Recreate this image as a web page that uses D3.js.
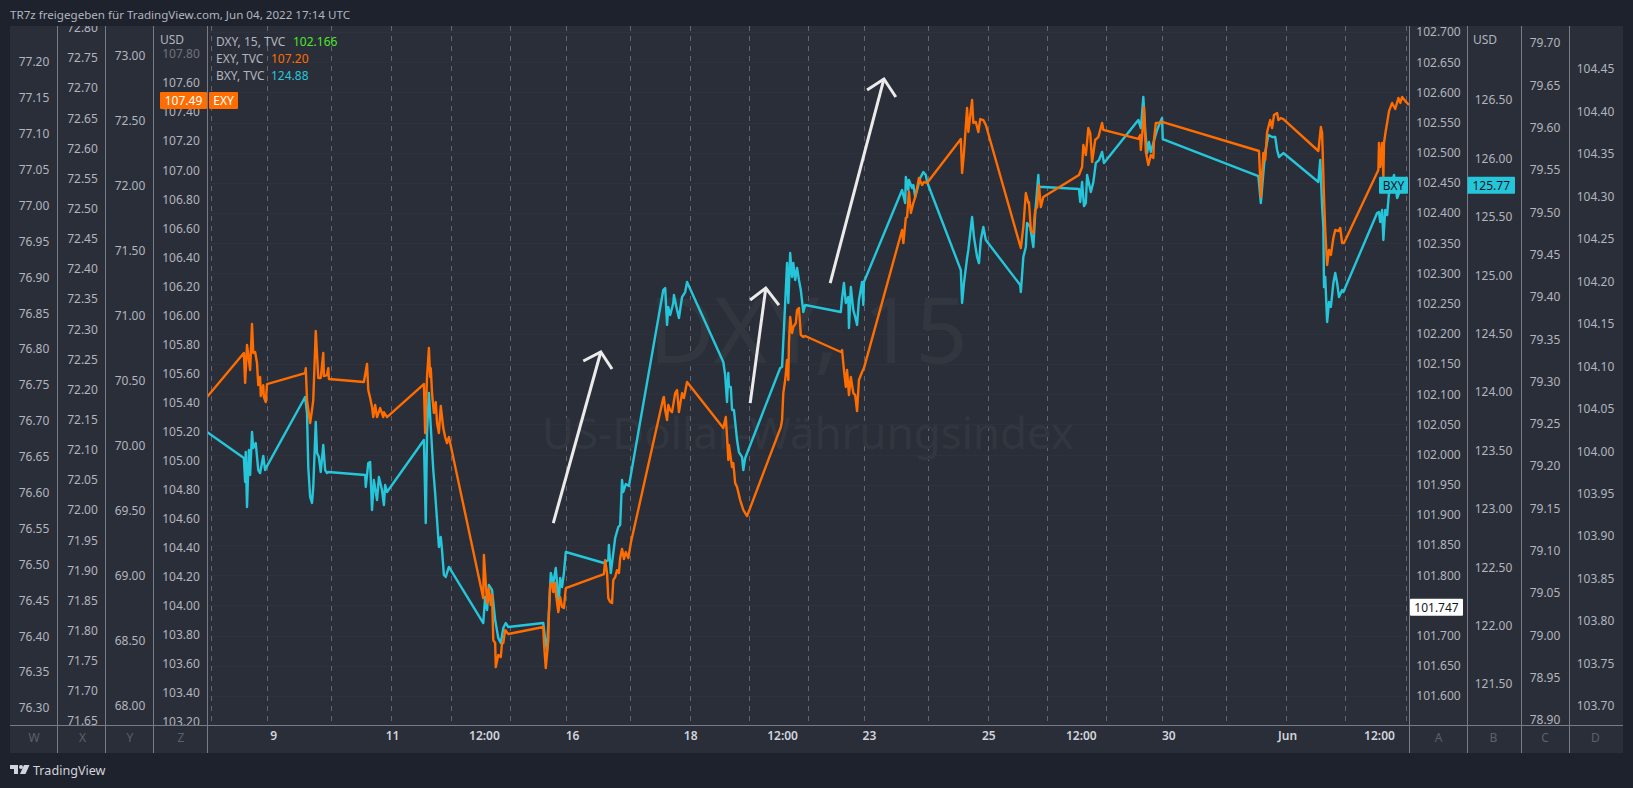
<!DOCTYPE html>
<html>
<head>
<meta charset="utf-8">
<title>DXY, EXY, BXY</title>
<style>
    html, body { margin: 0; padding: 0; background: #1e222d; overflow: hidden; }
    svg { display: block; }
    text { font-family: "Noto Sans", "Open Sans", sans-serif; font-size: 12px; fill: #b2b5be; }
</style>
<script src="https://cdn.jsdelivr.net/npm/d3@7"></script>
</head>
<body>
<div class="displayArea"></div>
<script>
// EXY, 15 min bars
const exyBars = [0, 59, 61, 64, 69, 72, 74, 77, 80, 82, 85, 86, 90, 91, 94, 96,
    157, 158, 160, 165, 168, 170, 174, 178, 182, 186, 187, 192, 194, 195,
    251, 256, 258, 261, 264, 266, 269, 272, 277, 282, 283, 288,
    347, 349, 352, 355, 357, 358, 360, 363, 366, 368, 371, 374, 378, 381, 384, 387,
    442, 443, 446, 448, 451, 454, 456, 458, 461, 462, 466, 470, 472, 474, 477, 482,
    538, 539, 542, 546, 547, 549, 552, 554, 557, 558, 562, 565, 568, 571, 574,
    635, 637, 640, 642, 645, 648, 650, 653, 656, 659, 661, 664, 667, 670, 674, 678,
    730, 731, 733, 736, 738, 741, 744, 749, 752, 755, 760, 763, 768,
    826, 830, 832, 834, 835, 840, 842, 845, 848, 853, 858, 864,
    918, 920, 922, 925, 928, 930, 931, 933, 936, 938, 942, 944, 947, 950, 954, 957,
    1014, 1016, 1019, 1022, 1024, 1027, 1030, 1034, 1037, 1040, 1043, 1048, 1051,
    1112, 1114, 1118, 1120, 1123, 1126, 1130, 1133, 1136, 1139, 1144, 1147, 1152,
    1206, 1208, 1211, 1216, 1218, 1224, 1226, 1230, 1234, 1237, 1242, 1246,
    1302, 1306, 1310, 1314, 1315, 1318, 1322, 1325, 1328, 1331, 1334, 1338,
    1395, 1400, 1402, 1406, 1410, 1413, 1416, 1421, 1426, 1432, 1434,
    1490, 1493, 1494, 1498, 1499, 1502, 1506, 1510, 1514, 1515, 1518, 1523, 1528,
    1683, 1685, 1686, 1690, 1693, 1696, 1701, 1704, 1707, 1712, 1714, 1718, 1722,
    1778, 1782, 1784, 1787, 1789, 1792, 1795, 1798, 1802, 1805, 1810, 1813, 1816, 1819,
    1874, 1875, 1877, 1880, 1882, 1883, 1886, 1888, 1891, 1896, 1901, 1906, 1909, 1912, 1917, 1923];
const exyValues = [105.438, 105.741, 105.534, 105.796, 105.624, 105.941, 105.741, 105.748, 105.672, 105.520, 105.576, 105.445, 105.520, 105.438, 105.403, 105.527,
    105.603, 105.637, 105.417, 105.259, 105.348, 105.417, 105.892, 105.569, 105.569, 105.741, 105.582, 105.589, 105.637, 105.562,
    105.541, 105.665, 105.486, 105.431, 105.369, 105.300, 105.383, 105.300, 105.362, 105.300, 105.334, 105.300,
    105.527, 105.190, 105.576, 105.775, 105.576, 105.637, 105.465, 105.328, 105.403, 105.259, 105.190, 105.376, 105.224, 105.162, 105.121, 105.162,
    104.053, 104.350, 104.157, 104.019, 104.122, 104.005, 104.074, 103.764, 103.744, 103.578, 103.661, 103.647, 103.744, 103.744, 103.833, 103.806,
    103.854, 103.750, 103.571, 103.764, 103.950, 104.143, 104.157, 104.095, 104.157, 104.088, 103.957, 104.060, 103.992, 103.985, 104.122,
    104.219, 104.315, 104.226, 104.053, 104.026, 104.019, 104.177, 104.198, 104.246, 104.226, 104.329, 104.391, 104.322, 104.370, 104.329, 104.432,
    105.431, 105.438, 105.348, 105.279, 105.383, 105.348, 105.334, 105.465, 105.486, 105.334, 105.465, 105.431, 105.541,
    105.224, 105.300, 105.162, 105.004, 105.107, 104.956, 104.983, 104.845, 104.818, 104.728, 104.660, 104.618,
    105.231, 105.279, 105.465, 105.555, 105.693, 105.555, 105.810, 105.989, 105.879, 105.920, 105.947, 106.037, 106.051, 105.865, 105.851, 105.858,
    105.748, 105.761, 105.624, 105.507, 105.624, 105.451, 105.576, 105.465, 105.451, 105.341, 105.555, 105.610, 105.637,
    106.588, 106.498, 106.671, 106.677, 106.850, 106.705, 106.774, 106.815, 106.877, 106.946, 106.898, 106.918, 106.912,
    107.215, 106.980, 107.118, 107.428, 107.263, 107.483, 107.325, 107.332, 107.263, 107.352, 107.345, 107.311,
    106.464, 106.609, 106.843, 106.774, 106.781, 106.588, 106.567, 106.726, 106.746, 106.898, 106.746, 106.815,
    106.967, 107.022, 107.173, 107.104, 107.290, 107.256, 107.056, 107.208, 107.228, 107.325, 107.277,
    107.215, 107.242, 107.139, 107.345, 107.435, 107.125, 107.036, 107.104, 107.084, 107.208, 107.325, 107.325, 107.332,
    107.132, 106.932, 106.815, 107.118, 107.070, 107.263, 107.345, 107.290, 107.380, 107.394, 107.345, 107.359, 107.352,
    107.132, 107.297, 107.256, 106.815, 106.588, 106.347, 106.450, 106.416, 106.533, 106.588, 106.581, 106.602, 106.498, 106.498,
    107.001, 107.187, 107.022, 107.187, 106.953, 107.187, 107.277, 107.325, 107.407, 107.463, 107.421, 107.497, 107.463, 107.504, 107.476, 107.449];

// BXY, 15 min bars
const bxyBars = [0, 59, 61, 62, 64, 67, 69, 72, 74, 78, 82, 85, 90, 93, 96,
    157, 160, 162, 165, 168, 170, 174, 176, 179, 182, 186, 189, 192, 194,
    253, 254, 258, 261, 264, 267, 272, 275, 280, 283, 285, 288,
    347, 350, 352, 355, 358, 362, 365, 368, 371, 374, 376, 379, 382, 387,
    442, 445, 448, 451, 456, 459, 461, 466, 470, 474, 478, 482,
    538, 541, 544, 547, 550, 554, 558, 560, 562, 565, 568, 571, 574,
    635, 642, 643, 646, 650, 653, 658, 661, 664, 666, 670, 675,
    730, 733, 736, 738, 741, 746, 747, 752, 755, 760, 765, 768,
    826, 829, 832, 834, 835, 838, 840, 843, 848, 851, 856, 858, 861,
    917, 920, 925, 928, 930, 933, 936, 938, 941, 944, 947, 950, 954, 957,
    1014, 1016, 1019, 1022, 1026, 1027, 1030, 1034, 1037, 1040, 1043, 1048, 1050, 1051,
    1112, 1117, 1118, 1122, 1123, 1128, 1130, 1133, 1136, 1141, 1146, 1150, 1152,
    1206, 1208, 1211, 1216, 1218, 1224, 1227, 1232, 1235, 1238, 1242, 1246,
    1301, 1302, 1306, 1310, 1312, 1317, 1322, 1325, 1330, 1331, 1338,
    1395, 1397, 1400, 1403, 1406, 1408, 1414, 1418, 1422, 1427, 1432, 1435,
    1490, 1494, 1498, 1501, 1504, 1507, 1510, 1514, 1520, 1525, 1528, 1529,
    1682, 1686, 1690, 1693, 1698, 1704, 1709, 1712, 1715, 1722,
    1778, 1781, 1784, 1786, 1787, 1789, 1792, 1795, 1798, 1802, 1805, 1808, 1811, 1816, 1818,
    1872, 1875, 1877, 1880, 1882, 1885, 1888, 1891, 1899, 1904, 1909, 1914];
const bxyValues = [123.658, 123.435, 123.229, 123.486, 123.015, 123.503, 123.289, 123.658, 123.520, 123.563, 123.332, 123.306, 123.452, 123.332, 123.366,
    123.957, 123.820, 123.358, 123.101, 123.050, 123.187, 123.743, 123.478, 123.443, 123.315, 123.546, 123.332, 123.306, 123.315,
    123.289, 123.187, 123.392, 123.401, 122.990, 123.246, 123.075, 123.272, 123.161, 123.032, 123.204, 123.144,
    123.589, 122.878, 123.649, 123.991, 123.700, 123.332, 123.135, 122.904, 122.673, 122.758, 122.647, 122.433, 122.416, 122.502,
    122.022, 122.245, 122.133, 122.347, 122.305, 122.150, 122.048, 121.894, 121.851, 121.979, 122.022, 121.988,
    122.022, 121.877, 121.791, 122.116, 122.450, 122.365, 122.493, 122.365, 122.133, 122.407, 122.330, 122.450, 122.630,
    122.536, 122.561, 122.690, 122.450, 122.621, 122.750, 122.844, 122.861, 123.246, 123.144, 123.212, 123.195,
    124.873, 124.890, 124.574, 124.728, 124.659, 124.762, 124.830, 124.702, 124.633, 124.813, 124.856, 124.942,
    124.257, 124.145, 123.914, 124.163, 124.043, 124.043, 123.846, 123.846, 123.589, 123.486, 123.443, 123.332, 123.435,
    124.205, 124.214, 124.762, 125.104, 124.762, 125.190, 124.985, 125.104, 124.959, 125.062, 124.959, 124.873, 124.685, 124.745,
    124.685, 124.805, 124.933, 124.762, 124.813, 124.548, 124.899, 124.702, 124.642, 124.574, 124.788, 124.942, 124.745, 124.942,
    125.729, 125.618, 125.841, 125.729, 125.815, 125.747, 125.772, 125.669, 125.729, 125.832, 125.884, 125.858, 125.798,
    125.044, 124.762, 124.933, 125.147, 125.216, 125.498, 125.327, 125.156, 125.104, 125.301, 125.413, 125.301,
    124.916, 124.856, 125.156, 125.241, 125.447, 125.413, 125.241, 125.532, 125.858, 125.755, 125.755,
    125.738, 125.627, 125.798, 125.592, 125.618, 125.858, 125.712, 125.798, 125.961, 125.986, 126.055, 125.961,
    126.329, 126.260, 126.526, 126.243, 126.046, 126.140, 126.055, 126.132, 126.243, 126.312, 126.346, 126.166,
    125.849, 125.618, 125.875, 126.055, 126.200, 126.183, 126.183, 126.072, 126.012, 126.046,
    125.798, 125.986, 125.584, 125.413, 124.899, 124.985, 124.599, 124.770, 124.728, 124.933, 125.019, 124.933, 124.813, 124.873, 124.856,
    125.532, 125.541, 125.455, 125.558, 125.301, 125.558, 125.515, 125.704, 125.858, 125.661, 125.729, 125.781];

// arrows drawn on the chart, on the EXY price scale: start, tip, head left, head right
const arrowBars = [[554, 630, 602, 648], [869, 894, 869, 915], [997, 1083, 1056, 1102]];
const arrowPrices = [[104.57, 105.748, 105.686, 105.631], [105.396, 106.188, 106.106, 106.071], [106.223, 107.628, 107.552, 107.504]];

// time scale
const gridBars = [6, 96, 198, 294, 390, 485, 574, 677, 773, 867, 962, 1051, 1154, 1250, 1344, 1438, 1528, 1630, 1726, 1821, 1918];
const timeBars = [106, 296, 443, 584, 773, 920, 1059, 1250, 1398, 1538, 1728, 1875];
const timeLabels = ["9", "11", "12:00", "16", "18", "12:00", "23", "25", "12:00", "30", "Jun", "12:00"];

// price axis ticks
const ticksW = [77.20, 77.15, 77.10, 77.05, 77.00, 76.95, 76.90, 76.85, 76.80, 76.75, 76.70, 76.65, 76.60, 76.55, 76.50, 76.45, 76.40, 76.35, 76.30];
const ticksX = [72.80, 72.75, 72.70, 72.65, 72.60, 72.55, 72.50, 72.45, 72.40, 72.35, 72.30, 72.25, 72.20, 72.15, 72.10, 72.05, 72.00, 71.95, 71.90, 71.85, 71.80, 71.75, 71.70, 71.65];
const ticksY = [73.00, 72.50, 72.00, 71.50, 71.00, 70.50, 70.00, 69.50, 69.00, 68.50, 68.00];
const ticksZ = [107.80, 107.60, 107.40, 107.20, 107.00, 106.80, 106.60, 106.40, 106.20, 106.00, 105.80, 105.60, 105.40, 105.20, 105.00, 104.80, 104.60, 104.40, 104.20, 104.00, 103.80, 103.60, 103.40, 103.20];
const ticksA = [102.70, 102.65, 102.60, 102.55, 102.50, 102.45, 102.40, 102.35, 102.30, 102.25, 102.20, 102.15, 102.10, 102.05, 102.00, 101.95, 101.90, 101.85, 101.80, 101.75, 101.70, 101.65, 101.60];
const ticksB = [126.50, 126.00, 125.50, 125.00, 124.50, 124.00, 123.50, 123.00, 122.50, 122.00, 121.50];
const ticksC = [79.70, 79.65, 79.60, 79.55, 79.50, 79.45, 79.40, 79.35, 79.30, 79.25, 79.20, 79.15, 79.10, 79.05, 79.00, 78.95, 78.90];
const ticksD = [104.45, 104.40, 104.35, 104.30, 104.25, 104.20, 104.15, 104.10, 104.05, 104.00, 103.95, 103.90, 103.85, 103.80, 103.75, 103.70];

const width = 1633, height = 788;
const paneTop = 26, paneBottom = 725, frameBottom = 753, frameLeft = 10, frameRight = 1623;
const plotLeft = 207, plotRight = 1409;

const orange = "#ff6d00", cyan = "#26c6da";

// scales
const x = d3.scaleLinear().domain([0, 1923]).range([plotLeft, plotRight]);

const yW = d3.scaleLinear().domain([77.20, 76.30]).range([62, 708]);
const yX = d3.scaleLinear().domain([72.75, 71.65]).range([58, 721]);
const yY = d3.scaleLinear().domain([73.00, 68.00]).range([56, 706]);
const yZ = d3.scaleLinear().domain([107.80, 103.20]).range([54, 722]);
const yA = d3.scaleLinear().domain([102.70, 101.60]).range([32, 696]);
const yB = d3.scaleLinear().domain([126.50, 121.50]).range([100, 684]);
const yC = d3.scaleLinear().domain([79.70, 78.90]).range([43, 720]);
const yD = d3.scaleLinear().domain([104.45, 103.70]).range([69, 706]);

const priceAxes = [
    { name: "W", scale: yW, ticks: ticksW, left: frameLeft, right: 57.5, center: 34, digits: 2 },
    { name: "X", scale: yX, ticks: ticksX, left: 57.5, right: 105.5, center: 82.5, digits: 2 },
    { name: "Y", scale: yY, ticks: ticksY, left: 105.5, right: 153.5, center: 130, digits: 2 },
    { name: "Z", scale: yZ, ticks: ticksZ, left: 153.5, right: plotLeft, center: 181, digits: 2 },
    { name: "A", scale: yA, ticks: ticksA, left: plotRight, right: 1467.5, center: 1438.5, digits: 3 },
    { name: "B", scale: yB, ticks: ticksB, left: 1467.5, right: 1521.5, center: 1493.5, digits: 2 },
    { name: "C", scale: yC, ticks: ticksC, left: 1521.5, right: 1569.5, center: 1545, digits: 2 },
    { name: "D", scale: yD, ticks: ticksD, left: 1569.5, right: frameRight, center: 1595.5, digits: 2 }
];

const svg = d3.select(".displayArea").append("svg")
    .attr("width", width)
    .attr("height", height);

const defs = svg.append("defs");
defs.append("clipPath").attr("id", "paneClip").append("rect")
    .attr("x", frameLeft).attr("y", paneTop)
    .attr("width", frameRight - frameLeft).attr("height", paneBottom - paneTop);
defs.append("clipPath").attr("id", "plotClip").append("rect")
    .attr("x", plotLeft).attr("y", paneTop)
    .attr("width", plotRight - plotLeft).attr("height", paneBottom - paneTop);

// header
svg.append("text")
    .attr("x", 10).attr("y", 19)
    .style("font-size", "11.6px")
    .text("TR7z freigegeben für TradingView.com, Jun 04, 2022 17:14 UTC");

// panel
svg.append("rect")
    .attr("x", frameLeft).attr("y", paneTop)
    .attr("width", frameRight - frameLeft).attr("height", frameBottom - paneTop)
    .attr("fill", "#2a2e39");

const plot = svg.append("g").attr("clip-path", "url(#plotClip)");

// horizontal grid sits on the main series axis
plot.selectAll(".hGrid")
    .data(ticksA)
    .enter()
    .append("line")
    .attr("class", "hGrid")
    .attr("x1", plotLeft).attr("x2", plotRight)
    .attr("y1", d => Math.round(yA(d)) + 0.5).attr("y2", d => Math.round(yA(d)) + 0.5)
    .style("stroke", "#2e323d");

plot.selectAll(".vGrid")
    .data(gridBars)
    .enter()
    .append("line")
    .attr("class", "vGrid")
    .attr("x1", d => Math.round(x(d)) + 0.5).attr("x2", d => Math.round(x(d)) + 0.5)
    .attr("y1", paneTop).attr("y2", paneBottom)
    .style("stroke", "#62656f")
    .style("stroke-dasharray", "5,5");

// watermark
plot.append("text")
    .attr("x", 808).attr("y", 363)
    .attr("text-anchor", "middle")
    .style("font-size", "92px")
    .style("fill", "#32363f")
    .text("DXY, 15");
plot.append("text")
    .attr("x", 808).attr("y", 449)
    .attr("text-anchor", "middle")
    .style("font-size", "43.8px")
    .style("fill", "#32363f")
    .text("US-Dollar-Währungsindex");

// series
function drawSeries(bars, values, yScale, color) {
    const line = d3.line()
        .x((d, i) => x(bars[i]))
        .y(d => yScale(d));
    plot.append("path")
        .datum(values)
        .attr("d", line)
        .attr("fill", "none")
        .style("stroke", color)
        .style("stroke-width", 2.4)
        .style("stroke-linejoin", "round");
}
drawSeries(bxyBars, bxyValues, yB, cyan);
drawSeries(exyBars, exyValues, yZ, orange);

// arrows
arrowBars.forEach((bars, i) => {
    const prices = arrowPrices[i];
    const arrow = plot.append("g")
        .style("stroke", "#ebebeb")
        .style("stroke-width", 3)
        .style("fill", "none");
    arrow.append("line")
        .attr("x1", x(bars[0])).attr("y1", yZ(prices[0]))
        .attr("x2", x(bars[1])).attr("y2", yZ(prices[1]));
    arrow.append("polyline")
        .attr("points", [2, 1, 3].map(k => `${x(bars[k])},${yZ(prices[k])}`).join(" "));
});

// price axes
const axisGroup = svg.append("g").attr("clip-path", "url(#paneClip)");
priceAxes.forEach(a => {
    const axis = d3.axisRight(a.scale)
        .tickValues(a.ticks)
        .tickSize(0)
        .tickPadding(0)
        .tickFormat(d3.format(`.${a.digits}f`));
    const g = axisGroup.append("g")
        .attr("transform", `translate(${a.center},0)`)
        .call(axis);
    g.select(".domain").remove();
    g.selectAll("text")
        .attr("text-anchor", "middle")
        .attr("fill", null)
        .style("font-family", "\"Noto Sans\", sans-serif")
        .style("font-size", "12px");
    svg.append("text")
        .attr("x", a.center).attr("y", 742)
        .attr("text-anchor", "middle")
        .style("fill", "#5d606b")
        .text(a.name);
    // the tick under the USD unit fades out
    if (a.name === "Z") g.selectAll("text").filter(d => d === 107.80).style("opacity", 0.5);
});

// time axis
const timeAxis = d3.axisBottom(x)
    .tickValues(timeBars)
    .tickSize(0)
    .tickPadding(0)
    .tickFormat((d, i) => timeLabels[i]);
const timeG = svg.append("g")
    .attr("transform", "translate(0,731)")
    .call(timeAxis);
timeG.select(".domain").remove();
timeG.selectAll("text")
    .attr("fill", null)
    .style("font-family", "\"Noto Sans\", sans-serif")
    .style("font-size", "12px")
    .style("font-weight", 600)
    .style("fill", "#d1d4dc");

// separators
const separators = [57.5, 105.5, 153.5, 207.5, 1409.5, 1467.5, 1521.5, 1569.5];
svg.selectAll(".sep")
    .data(separators)
    .enter()
    .append("line")
    .attr("class", "sep")
    .attr("x1", d => d).attr("x2", d => d)
    .attr("y1", paneTop).attr("y2", frameBottom)
    .style("stroke", "#787b86");
svg.append("line")
    .attr("x1", frameLeft).attr("x2", frameRight)
    .attr("y1", paneBottom + 0.5).attr("y2", paneBottom + 0.5)
    .style("stroke", "#787b86");

// USD units
svg.append("text").attr("x", 172).attr("y", 44).attr("text-anchor", "middle").text("USD");
svg.append("text").attr("x", 1485).attr("y", 44).attr("text-anchor", "middle").text("USD");

// last value labels
function priceLabel(left, right, yCenter, label, fill, color) {
    svg.append("rect")
        .attr("x", left).attr("y", yCenter - 8.5)
        .attr("width", right - left).attr("height", 17)
        .attr("rx", 1)
        .attr("fill", fill);
    svg.append("text")
        .attr("x", (left + right) / 2).attr("y", yCenter + 4.5)
        .attr("text-anchor", "middle")
        .style("fill", color)
        .text(label);
}
const exyLast = 107.49, bxyLast = 125.77, dxyLast = 101.747;
priceLabel(160, 207, yZ(exyLast) + 1.5, d3.format(".2f")(exyLast), orange, "#ffffff");
priceLabel(209, 238, yZ(exyLast) + 1.5, "EXY", orange, "#ffffff");
priceLabel(1467.5, 1515, yB(bxyLast), d3.format(".2f")(bxyLast), cyan, "#131722");
priceLabel(1379, 1408, yB(bxyLast), "BXY", cyan, "#131722");
priceLabel(1410, 1463, yA(dxyLast), d3.format(".3f")(dxyLast), "#ffffff", "#131722");

// legend
const legendNames = ["DXY, 15, TVC", "EXY, TVC", "BXY, TVC"];
const legendValues = ["102.166", "107.20", "124.88"];
const legendColors = ["#4ce62a", orange, cyan];
const legendValueX = [293, 271, 271];
legendNames.forEach((name, i) => {
    svg.append("text").attr("x", 216).attr("y", 46 + i * 17).text(name);
    svg.append("text").attr("x", legendValueX[i]).attr("y", 46 + i * 17)
        .style("fill", legendColors[i])
        .text(legendValues[i]);
});

// logo
const logo = svg.append("g").attr("transform", "translate(10,765)").attr("fill", "#d1d4dc");
logo.append("path").attr("d", "M0 0H8V9H4V4H0Z");
logo.append("circle").attr("cx", 11).attr("cy", 2).attr("r", 2);
logo.append("path").attr("d", "M14 0H19.5L15.5 9H10Z");
svg.append("text")
    .attr("x", 33).attr("y", 775)
    .style("font-size", "12.6px")
    .style("fill", "#d1d4dc")
    .text("TradingView");
</script>
</body>
</html>
